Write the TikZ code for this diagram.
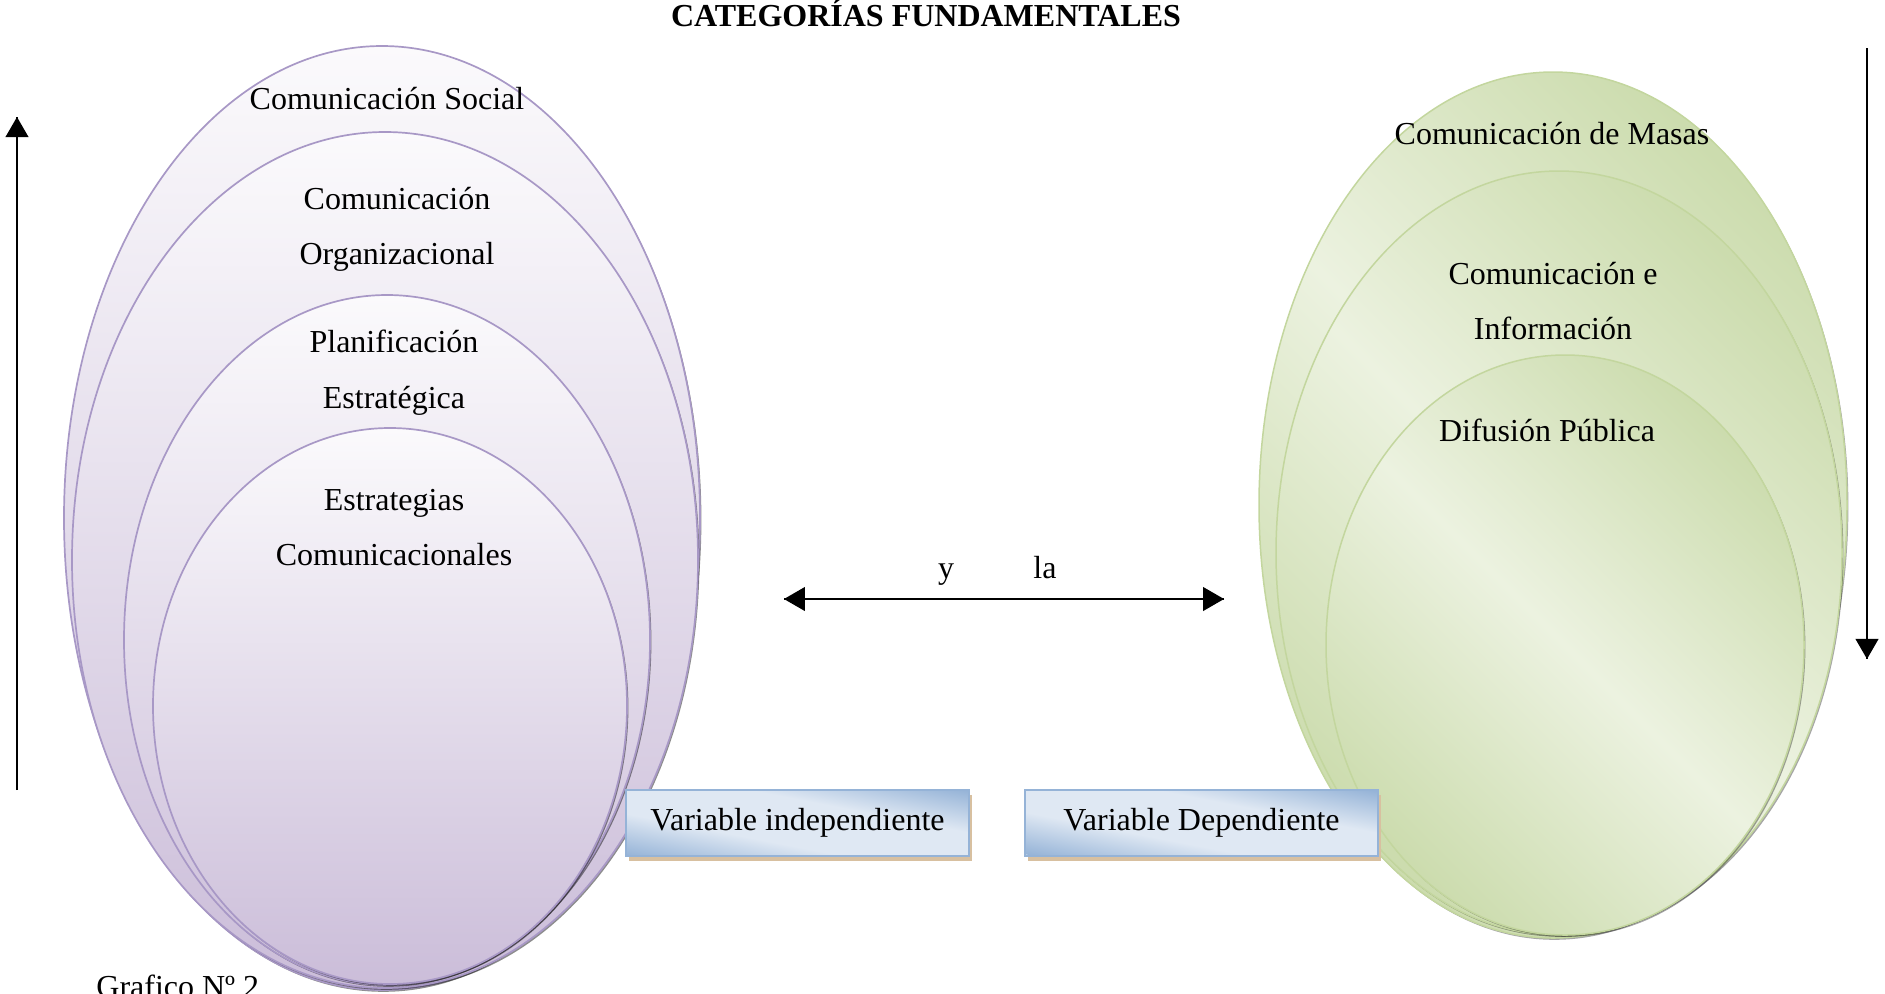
\documentclass[tikz,border=0pt]{standalone}
\usepackage{fontspec}
\setmainfont{Liberation Serif}
\usetikzlibrary{arrows}
\usetikzlibrary{decorations.markings}
\usetikzlibrary{shadows}
\usetikzlibrary{positioning}
\definecolor{lilacline}{HTML}{A898C6}
\definecolor{lilactop}{HTML}{FBFAFC}
\definecolor{lilacbot}{HTML}{CBBDD9}
\definecolor{leafline}{HTML}{C3D69E}
\definecolor{leafdark}{HTML}{CCDCAE}
\definecolor{leaflight}{HTML}{ECF2E0}
\definecolor{boxline}{HTML}{95B3D7}
\definecolor{boxlight}{HTML}{DFE8F3}
\definecolor{boxshade}{HTML}{D8C0A0}
\pgfdeclareverticalshading{boxglow}{100bp}{color(0bp)=(boxline); color(25bp)=(boxline);
  color(41bp)=(boxlight); color(59bp)=(boxlight); color(75bp)=(boxline); color(100bp)=(boxline)}
\tikzset{arrowend/.style = {decoration={markings,
                                  mark=at position 1 with {\arrow[scale=1.55]{triangle 60}}},
                      postaction={decorate}}}
\tikzset{arrowboth/.style = {decoration={markings,
                                  mark=at position 0 with {\arrowreversed[scale=1.3]{triangle 60}},
                                  mark=at position 1 with {\arrow[scale=1.3]{triangle 60}}},
                      postaction={decorate}}}
\tikzset{lilacoval/.style = {draw=lilacline, line width=0.85pt,
                             top color=lilactop, bottom color=lilacbot,
                             general shadow={fill=black, opacity=0.45,
                                             shadow xshift=0.7pt, shadow yshift=-0.9pt}},
         leafoval/.style = {draw=leafline, line width=0.75pt,
                            left color=leafdark, right color=leafdark,
                            middle color=leaflight, shading angle=-45,
                            general shadow={fill=black, opacity=0.35,
                                            shadow xshift=0.7pt, shadow yshift=-0.9pt}},
         varbox/.style = {draw=boxline, line width=1pt, inner sep=0pt,
                          minimum height=33pt, fill=boxlight,
                          general shadow={fill=boxshade, shadow xshift=1.5pt,
                                          shadow yshift=-2.5pt},
                          path picture={
                            \shade[shading=boxglow,
                                   transform canvas={rotate around={-11:(path picture bounding box.center)}}]
                              ([xshift=-95pt, yshift=-32.4pt]path picture bounding box.center)
                              rectangle ([xshift=95pt, yshift=32.4pt]path picture bounding box.center);}},
         label/.style = {anchor=base, inner sep=0pt}}
\begin{document}
\begin{tikzpicture}[x=0.5pt, y=-0.5pt,
                    every node/.style={font=\fontsize{16pt}{19pt}\selectfont}]
  \useasboundingbox (0,0) rectangle (1885,993);
  % left set
  \path[lilacoval] (382,518) ellipse [x radius=318, y radius=472];
  \path[lilacoval] (385,560) ellipse [x radius=313, y radius=428];
  \path[lilacoval] (387,640) ellipse [x radius=263, y radius=345];
  \path[lilacoval] (390,706) ellipse [x radius=237, y radius=278];
  % right set
  \path[leafoval] (1553,505) ellipse [x radius=294, y radius=433];
  \path[leafoval] (1559,553) ellipse [x radius=283, y radius=382];
  \path[leafoval] (1565,645) ellipse [x radius=239, y radius=290];

  \node[label, font=\fontsize{16pt}{19pt}\selectfont\bfseries] (title) at (926,26) {CATEGORÍAS FUNDAMENTALES};

  \node[label] (social) at (387,109) {Comunicación Social};
  \node[label] (orga1) at (397,209) {Comunicación};
  \node[label] (orga2) at (397,264) {Organizacional};
  \node[label] (plan1) at (394,352) {Planificación};
  \node[label] (plan2) at (394,408) {Estratégica};
  \node[label] (estr1) at (394,510) {Estrategias};
  \node[label] (estr2) at (394,565) {Comunicacionales};

  \node[label] (masas) at (1552,144) {Comunicación de Masas};
  \node[label] (info1) at (1553,284) {Comunicación e};
  \node[label] (info2) at (1553,339) {Información};
  \node[label] (difus) at (1547,441) {Difusión Pública};

  \node[label] (conj) at (946,578) {y};
  \node[label] (art) at (1045,578) {la};

  \node[varbox, minimum width=171.5pt] (indep) at (797.5,823) {Variable independiente};
  \node[varbox, minimum width=176.5pt] (depen) at (1201.5,822.5) {Variable Dependiente};

  \node[anchor=base west, inner sep=0pt] (grafico) at (96,997) {Grafico Nº 2};

  % arrows
  \coordinate (lowleft) at (17,790);
  \coordinate (upleft) at (17,117);
  \coordinate (upright) at (1867,48);
  \coordinate (lowright) at (1867,659);
  \coordinate (midleft) at (784,599);
  \coordinate (midright) at (1224,599);
  \draw [line width=0.75pt, arrowend] (lowleft) -- (upleft);
  \draw [line width=0.75pt, arrowend] (upright) -- (lowright);
  \draw [line width=1.2pt, arrowboth] (midleft) -- (midright);
\end{tikzpicture}
\end{document}
